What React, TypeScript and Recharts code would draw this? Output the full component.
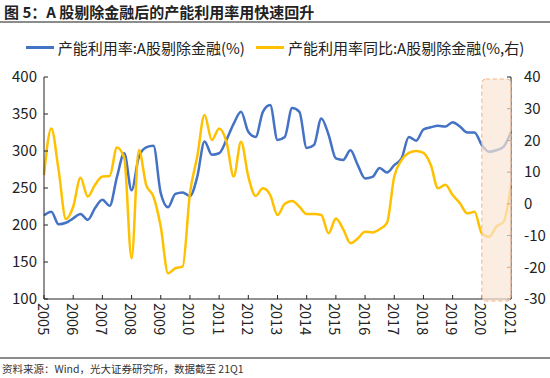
import React from 'react';
import { LineChart, Line, XAxis, YAxis, ReferenceArea } from 'recharts';

const years = [2005, 2006, 2007, 2008, 2009, 2010, 2011, 2012, 2013, 2014, 2015, 2016, 2017, 2018, 2019, 2020, 2021];

// 2005Q1 ... 2021Q1
const quarters: string[] = [];
years.forEach((y) => {
  const qs = y === 2021 ? ['Q1'] : ['Q1', 'Q2', 'Q3', 'Q4'];
  qs.forEach((q) => quarters.push(`${y}${q}`));
});

// 产能利用率:A股剔除金融(%)
const utilRate = [
  213, 218, 201, 203, 209, 215, 207, 223, 234, 226, 265, 297, 247, 292, 305, 307,
  243, 224, 242, 244, 239, 265, 313, 295, 297, 315, 337, 353, 326, 319, 353, 362,
  315, 319, 358, 353, 304, 308, 344, 322, 290, 288, 301, 281, 263, 265, 277, 271,
  281, 290, 319, 314, 329, 332, 334, 333, 339, 333, 325, 325, 308, 299, 301, 306,
  326,
];

// 产能利用率同比:A股剔除金融(%,右)
const utilYoY = [
  9.1, 23.8, 10.7, -4.8, -0.9, 8.2, 2.3, 6, 8.6, 8.8, 17.8, 14.4, -17.2, 17, 6, 2.3,
  -7.2, -21.9, -20.3, -19.8, 3.3, 14.9, 28, 20.1, 23.8, 19.6, 8.6, 19.6, 8.6, 2.5, 4.9, 2.8,
  -3.5, 0, 0.9, -0.9, -3.2, -3.2, -3.5, -9.3, -4.6, -8, -12.4, -10.9, -8.8, -9, -8, -6,
  8.6, 13.8, 16.1, 16.7, 16.1, 12.3, 4.9, 6, 2.8, 0.2, -3, -2.5, -9.3, -10.4, -7.2, -5.6,
  6,
];

const leftTicks = [100, 150, 200, 250, 300, 350, 400];
const rightTicks = [-30, -20, -10, 0, 10, 20, 30, 40];
const yearTicks = quarters.filter((q) => q.endsWith('Q1'));

const chartData = quarters.map((q, i) => ({ q, util: utilRate[i], yoy: utilYoY[i] }));

const BLUE = '#4472C4';
const GOLD = '#FFC000';
const FONT = '"Noto Sans CJK SC", "Noto Sans", sans-serif';

const YearTick = (props: any) => {
  const { x, y, payload } = props;
  return (
    <text
      transform={`translate(${x},${y}) rotate(90)`}
      textAnchor="start"
      dominantBaseline="central"
      fontSize={14.5}
      fill="#222"
      fontFamily={FONT}
    >
      {String(payload.value).slice(0, 4)}
    </text>
  );
};

const ShadeBox = (props: any) => {
  const { x, y, width, height } = props;
  return (
    <rect
      x={x}
      y={y + 2}
      width={width}
      height={height}
      rx={4}
      ry={4}
      fill="#FBE5D6"
      fillOpacity={0.7}
      stroke="#F4B183"
      strokeDasharray="4 3"
      strokeWidth={1}
    />
  );
};

export default function App() {
  return (
    <div style={{ position: 'absolute', left: 0, top: 0, width: 550, height: 378, background: '#fff', fontFamily: FONT }}>
      <div style={{ position: 'absolute', left: 4, top: 1, fontSize: 15, fontWeight: 600, color: '#222', whiteSpace: 'nowrap' }}>
        图 5：A 股剔除金融后的产能利用率用快速回升
      </div>
      <div style={{ position: 'absolute', left: 0, top: 21, width: 550, height: 2, background: '#8c8c8c' }} />

      {/* legend */}
      <div style={{ position: 'absolute', left: 0, top: 37, width: 550, display: 'flex', justifyContent: 'center', alignItems: 'center', fontSize: 15, color: '#222', whiteSpace: 'nowrap' }}>
        <span style={{ display: 'inline-block', width: 28, height: 3, background: BLUE, marginRight: 4 }} />
        <span>产能利用率:A股剔除金融(%)</span>
        <span style={{ display: 'inline-block', width: 28, height: 3, background: GOLD, marginLeft: 11, marginRight: 4 }} />
        <span>产能利用率同比:A股剔除金融(%,右)</span>
      </div>

      <div style={{ position: 'absolute', left: 0, top: 0 }}>
        <LineChart width={550} height={378} data={chartData} margin={{ top: 77, right: 0, left: 0, bottom: 34 }}>
          <XAxis
            dataKey="q"
            ticks={yearTicks}
            interval={0}
            tick={<YearTick />}
            tickSize={-4}
            tickMargin={8}
            height={45}
            axisLine={{ stroke: '#222' }}
            tickLine={{ stroke: '#222' }}
          />
          <YAxis
            yAxisId="left"
            domain={[100, 400]}
            ticks={leftTicks}
            width={44}
            tickSize={-4}
            tickMargin={11}
            axisLine={{ stroke: '#222' }}
            tickLine={{ stroke: '#222' }}
            tick={{ fontSize: 15, fill: '#222', fontFamily: FONT }}
          />
          <YAxis
            yAxisId="right"
            orientation="right"
            domain={[-30, 40]}
            ticks={rightTicks}
            width={39}
            tickSize={-4}
            tickMargin={17}
            axisLine={{ stroke: '#222' }}
            tickLine={{ stroke: '#222' }}
            tick={{ fontSize: 15, fill: '#222', fontFamily: FONT, textAnchor: 'start' }}
          />
          <Line
            yAxisId="left"
            type="monotone"
            dataKey="util"
            stroke={BLUE}
            strokeWidth={2.5}
            dot={false}
            isAnimationActive={false}
          />
          <Line
            yAxisId="right"
            type="monotone"
            dataKey="yoy"
            stroke={GOLD}
            strokeWidth={2.5}
            dot={false}
            isAnimationActive={false}
          />
          <ReferenceArea
            yAxisId="left"
            x1="2020Q1"
            x2="2021Q1"
            y1={100}
            y2={400}
            shape={<ShadeBox />}
            zIndex={600}
          />
        </LineChart>
      </div>

      <div style={{ position: 'absolute', left: 0, top: 357, width: 550, height: 2, background: '#8c8c8c' }} />
      <div style={{ position: 'absolute', left: 2, top: 361, fontSize: 10.5, color: '#333', whiteSpace: 'nowrap' }}>
        资料来源：Wind，光大证券研究所，数据截至 21Q1
      </div>
    </div>
  );
}
